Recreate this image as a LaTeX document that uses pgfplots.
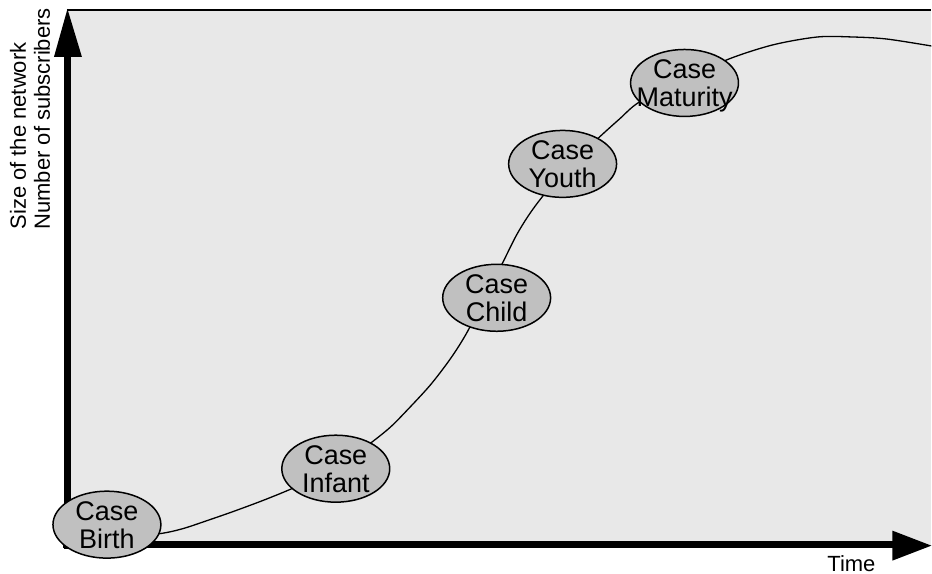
\documentclass[border=0pt]{standalone}
\usepackage{fontspec}
\setmainfont{Liberation Sans}
\usepackage{pgfplots}
\pgfplotsset{compat=1.18}
\usepackage{pgfplotstable}

\definecolor{bggray}{HTML}{E8E8E8}
\definecolor{casegray}{HTML}{C0C0C0}

% ellipse mark for the life-cycle stages
\pgfdeclareplotmark{caseell}{%
  \pgfpathellipse{\pgfpointorigin}{\pgfqpoint{27pt}{0pt}}{\pgfqpoint{0pt}{16.75pt}}%
  \pgfusepathqfillstroke}

% stage positions (pixel units of the reference, y downwards)
\pgfplotstableread{
x   y   name
107 525 Birth
336 469 Infant
497 298 Child
563 164 Youth
685 83  Maturity
}\stages

\begin{document}
\begin{tikzpicture}
\begin{axis}[
    scale only axis,
    width=433pt, height=267.5pt,
    xmin=66, xmax=932, ymin=10, ymax=545,
    y dir=reverse,
    hide axis,
    clip=false,
  ]
  % background panel and top border
  \fill[bggray] (axis cs:67,10) rectangle (axis cs:932,545);
  \draw[line width=0.6pt] (axis cs:67,10) -- (axis cs:932,10);

  % growth curve
  \addplot[smooth, tension=0.5, line width=0.65pt, black] coordinates {
    (125,537) (160,534) (183,529) (210,520) (233,512) (260,502) (285,492)
    (310,481) (336,468) (370,444) (390,428) (405,413) (430,386) (450,360)
    (466,335) (486,297) (503,263) (517,235) (530,214) (545,194) (570,165)
    (600,137) (620,119) (640,102) (682,82) (727,60) (773,45) (818,37)
    (853,37) (887,39) (932,46) };

  % axes with arrow heads
  \draw[line width=3.75pt] (axis cs:67.5,549) -- (axis cs:67.5,55);
  \fill (axis cs:54,57) -- (axis cs:67.5,9) -- (axis cs:82,57) -- cycle;
  \draw[line width=3.75pt] (axis cs:63,545) -- (axis cs:895,545);
  \fill (axis cs:893,531) -- (axis cs:932,546) -- (axis cs:893,561) -- cycle;

  % stages: ellipse + second text line
  \addplot[only marks, mark=caseell,
    mark options={fill=casegray, draw=black, line width=0.75pt},
    point meta=explicit symbolic,
    nodes near coords={\pgfplotspointmeta},
    every node near coord/.style={anchor=base, inner sep=0pt, yshift=-12pt, font=\fontsize{13.5}{14}\selectfont}]
    table[x=x, y=y, meta=name] {\stages};
  % first text line
  \addplot[only marks, mark=none,
    nodes near coords={Case},
    every node near coord/.style={anchor=base, inner sep=0pt, yshift=2pt, font=\fontsize{13.5}{14}\selectfont}]
    table[x=x, y=y] {\stages};

  % axis titles
  \node[rotate=90, anchor=base west, inner sep=0pt, font=\fontsize{11}{12}\selectfont]
    at (axis cs:26,230) {Size of the network};
  \node[rotate=90, anchor=base west, inner sep=0pt, font=\fontsize{11}{12}\selectfont]
    at (axis cs:50,230) {Number of subscribers};
  \node[anchor=base, inner sep=0pt, font=\fontsize{11}{12}\selectfont]
    at (axis cs:852,572) {Time};

  \path (axis cs:0,0) rectangle (axis cs:932,574);
\end{axis}
\end{tikzpicture}
\end{document}
